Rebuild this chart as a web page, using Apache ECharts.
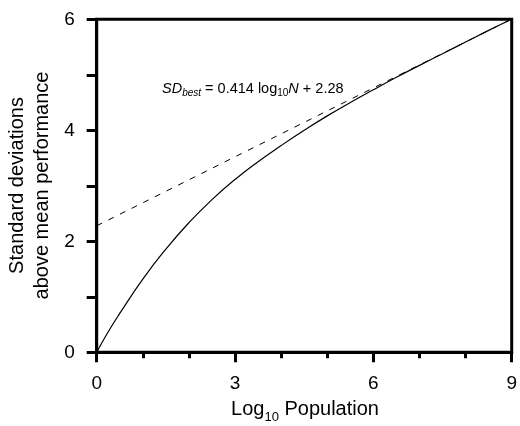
<!DOCTYPE html>
<html>
<head>
<meta charset="utf-8">
<script src="https://cdn.jsdelivr.net/npm/echarts@6/dist/echarts.min.js"></script>
<style>
html,body{margin:0;padding:0;background:#fff;}
#chart{width:520px;height:426px;}
</style>
</head>
<body>
<div id="chart"></div>
<script>
// Curve: log10 population vs standard deviations above mean
const curveX = [0, 0.25, 0.5, 1, 1.5, 2, 2.5, 3, 3.5, 4, 4.5, 5, 5.5, 6, 6.5, 7, 7.5, 8, 8.5, 9];
const curveY = [0, 0.37, 0.70, 1.32, 1.86, 2.335, 2.75, 3.115, 3.435, 3.725, 4.00, 4.26, 4.50, 4.73, 4.955, 5.17, 5.38, 5.59, 5.80, 6.00];
// Fitted line SD_best = 0.414 log10 N + 2.28
const fitX = [0, 9];
const fitY = [2.28, 6.006];
const xTickValues = [0, 3, 6, 9];
const yTickLabels = [0, 2, 4, 6];

const FONT = 'Liberation Sans, Arial, sans-serif';
const chart = echarts.init(document.getElementById('chart'), null, {renderer: 'canvas'});

const option = {
  backgroundColor: '#fff',
  animation: false,
  grid: {left: 96.7, right: 6, top: 19.3, bottom: 73.7, show: true, borderColor: '#000', borderWidth: 3},
  xAxis: {
    type: 'value', min: 0, max: 9, interval: 3,
    axisLine: {show: true, lineStyle: {color: '#000', width: 3}},
    axisTick: {show: true, length: 10, lineStyle: {color: '#000', width: 3}},
    minorTick: {show: true, splitNumber: 3, length: 6, lineStyle: {color: '#000', width: 3}},
    splitLine: {show: false},
    axisLabel: {color: '#000', fontSize: 19, fontFamily: FONT, margin: 22,
      formatter: v => xTickValues.includes(v) ? String(v) : ''}
  },
  yAxis: {
    type: 'value', min: 0, max: 6, interval: 1,
    axisLine: {show: true, lineStyle: {color: '#000', width: 3}},
    axisTick: {show: true, length: 10, lineStyle: {color: '#000', width: 3}},
    splitLine: {show: false},
    axisLabel: {color: '#000', fontSize: 19, fontFamily: FONT, margin: 22,
      formatter: v => yTickLabels.includes(v) ? String(v) : ''}
  },
  series: [
    {
      type: 'line', data: fitX.map((x, i) => [x, fitY[i]]),
      showSymbol: false, symbol: 'none',
      lineStyle: {color: '#000', width: 1, type: [6, 7]}
    },
    {
      type: 'line', data: curveX.map((x, i) => [x, curveY[i]]),
      showSymbol: false, symbol: 'none', smooth: 0.5,
      lineStyle: {color: '#000', width: 1.2}
    }
  ],
  graphic: [
    {
      type: 'text', x: 305, y: 409,
      style: {
        text: '{a|Log}{s|10}{a| Population}',
        textAlign: 'center', textVerticalAlign: 'middle',
        rich: {
          a: {fontSize: 20, fontFamily: FONT, fill: '#000'},
          s: {fontSize: 13, fontFamily: FONT, fill: '#000', padding: [16, 0, 0, 0]}
        }
      }
    },
    {
      type: 'text', x: 30, y: 185.5, rotation: Math.PI / 2,
      style: {
        text: 'Standard deviations\nabove mean performance',
        font: '20px ' + FONT, fill: '#000', lineHeight: 25,
        textAlign: 'center', textVerticalAlign: 'middle'
      }
    },
    {
      type: 'text', x: 162, y: 89,
      style: {
        text: '{i|SD}{is|best}{n| = 0.414 log}{s|10}{i|N}{n| + 2.28}',
        textAlign: 'left', textVerticalAlign: 'middle',
        rich: {
          i: {fontSize: 14.5, fontFamily: FONT, fontStyle: 'italic', fill: '#000'},
          is: {fontSize: 10, fontFamily: FONT, fontStyle: 'italic', fill: '#000', padding: [9, 0, 0, 0]},
          n: {fontSize: 14.5, fontFamily: FONT, fill: '#000'},
          s: {fontSize: 10, fontFamily: FONT, fill: '#000', padding: [9, 0, 0, 0]}
        }
      }
    }
  ]
};
chart.setOption(option);
</script>
</body>
</html>
